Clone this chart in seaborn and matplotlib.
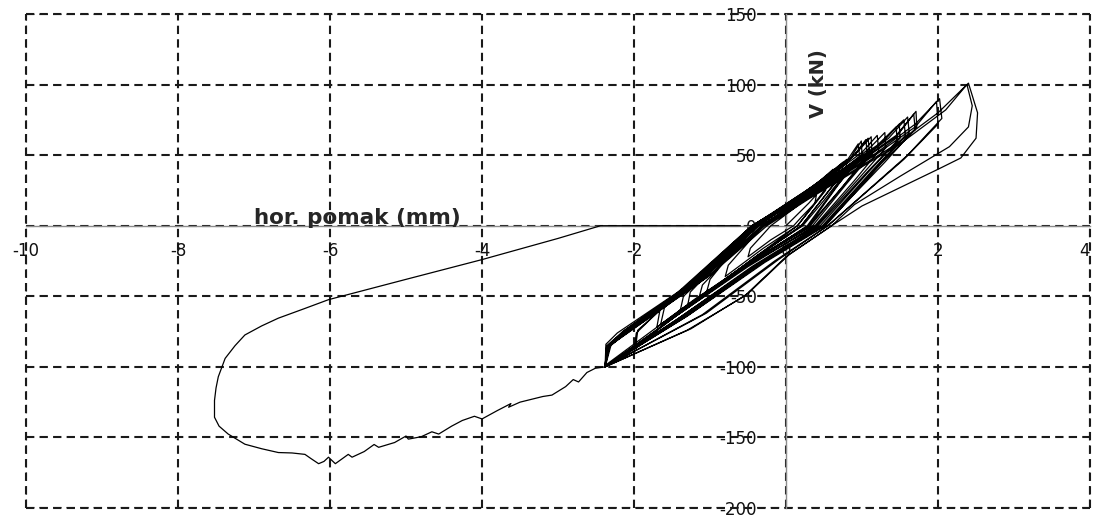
import numpy as np
import pandas as pd
import seaborn as sns
import matplotlib.pyplot as plt

# hysteresis: horizontal displacement (mm) vs shear force V (kN)
# small cycles
small_x = [0, 0.15, 0.3, 0.4, 0.38, 0.2, 0.1, -0.2, -0.4, -0.5, -0.47, -0.3, -0.2,
           0.1, 0.4, 0.55, 0.52, 0.3, 0.15, -0.3, -0.65, -0.8, -0.76, -0.5, -0.3,
           0.05, 0.45, 0.7, 0.68, 0.42, 0.2, -0.35, -0.85, -1.05, -1.0, -0.7, -0.38,
           0.0, 0.45, 0.62, 0.6, 0.35, 0.15, -0.4, -0.9, -1.15, -1.1, -0.75, -0.4,
           0.05, 0.55, 0.8, 0.79, 0.5, 0.22, -0.4, -1.0, -1.3, -1.26, -0.85, -0.42,
           0.05, 0.5, 0.75, 0.73, 0.45, 0.2, -0.45, -1.05, -1.4, -1.35, -0.9, -0.44]
small_y = [0, 8, 16, 22, 16, 6, 0, -10, -18, -22, -16, -6, 0,
           12, 25, 33, 25, 10, 0, -16, -30, -36, -28, -12, 0,
           14, 30, 42, 33, 15, 0, -20, -40, -48, -38, -18, 0,
           14, 32, 40, 32, 14, 0, -22, -42, -52, -42, -22, 0,
           16, 36, 47, 38, 18, 0, -22, -46, -58, -47, -24, 0,
           15, 34, 45, 36, 17, 0, -25, -48, -62, -50, -27, 0]

# medium cycles
mid_x = [0.1, 0.6, 0.85, 0.99, 1.0, 0.7, 0.3, -0.5, -1.2, -1.7, -1.66, -1.1, -0.45,
         0.05, 0.55, 0.8, 0.95, 0.97, 0.65, 0.28, -0.45, -1.15, -1.65, -1.6, -1.05, -0.42,
         0.1, 0.6, 0.9, 1.12, 1.13, 0.8, 0.35, -0.5, -1.4, -2.0, -1.97, -1.4, -0.45,
         0.08, 0.6, 0.88, 1.08, 1.1, 0.78, 0.32, -0.55, -1.4, -1.98, -1.95, -1.35, -0.44]
mid_y = [18, 36, 48, 60, 50, 30, 0, -27, -52, -72, -60, -33, 0,
         16, 35, 46, 58, 48, 27, 0, -26, -52, -70, -58, -32, 0,
         19, 37, 50, 63, 51, 30, 0, -27, -60, -88, -76, -46, 0,
         17, 36, 49, 62, 50, 30, 0, -29, -62, -86, -74, -45, 0]

# cycles reaching -100 kN on the negative side
big_x = [0.1, 0.65, 0.9, 1.05, 1.07, 0.75, 0.3, -0.6, -1.5, -2.38, -2.37, -2.22, -1.34, -0.45,
         0.1, 0.7, 1.0, 1.2, 1.22, 0.9, 0.38, -0.5, -1.5, -2.38, -2.36, -2.12, -1.28, -0.4,
         0.1, 0.8, 1.1, 1.3, 1.31, 0.95, 0.4, -0.5, -1.5, -2.38, -2.36, -2.15, -1.3, -0.42,
         0.1, 0.9, 1.25, 1.49, 1.5, 1.1, 0.45, -0.4, -1.4, -2.38, -2.36, -2.1, -1.25, -0.4,
         0.15, 0.9, 1.2, 1.45, 1.46, 1.05, 0.42, -0.45, -1.45, -2.38, -2.35, -2.05, -1.2, -0.38,
         0.12, 0.85, 1.2, 1.55, 1.57, 1.15, 0.48, -0.38, -1.4, -2.38, -2.35, -2.08, -1.22, -0.38,
         0.15, 1.0, 1.35, 1.6, 1.62, 1.2, 0.5, -0.35, -1.35, -2.38, -2.35, -2.0, -1.2, -0.35,
         0.18, 1.1, 1.45, 1.68, 1.7, 1.25, 0.52, -0.28, -1.3, -2.38, -2.34, -1.98, -1.12, -0.3,
         0.15, 1.05, 1.45, 1.71, 1.72, 1.3, 0.5, -0.3, -1.3, -2.38, -2.34, -2.0, -1.15, -0.32]
big_y = [19, 38, 50, 61, 50, 28, 0, -30, -64, -99, -84, -76, -44, 0,
         18, 40, 52, 64, 53, 32, 0, -29, -66, -100, -85, -74, -42, 0,
         18, 42, 55, 66, 55, 33, 0, -28, -66, -100, -86, -75, -43, 0,
         17, 45, 58, 72, 62, 39, 0, -28, -65, -100, -86, -74, -42, 0,
         18, 45, 56, 70, 60, 37, 0, -29, -67, -100, -87, -73, -41, 0,
         17, 44, 57, 75, 64, 40, 0, -28, -66, -100, -86, -73, -41, 0,
         18, 48, 62, 77, 66, 42, 0, -27, -65, -100, -86, -72, -40, 0,
         17, 50, 63, 79, 68, 44, 0, -26, -64, -100, -86, -71, -38, 0,
         17, 49, 64, 81, 70, 45, 0, -26, -64, -100, -86, -71, -39, 0]

# largest cycles
top_x = [0.2, 1.2, 1.7, 2.02, 2.05, 1.6, 0.55, -0.15, -1.1, -2.38, -2.33, -1.95, -1.1, -0.3,
         0.2, 1.2, 1.7, 1.98, 2.0, 1.55, 0.55, -0.1, -1.05, -2.38, -2.32, -1.9, -1.05, -0.28,
         0.25, 1.4, 2.0, 2.4, 2.52, 2.5, 2.3, 2.0, 1.5, 1.0, 0.6, 0.0, -0.55, -1.3, -2.38,
         -2.3, -1.85, -1.0, -0.25,
         0.3, 1.5, 2.1, 2.38, 2.45, 2.4, 2.15, 1.5, 0.9, 0.6, 0.05, -0.5, -1.25, -2.38]
top_y = [18, 52, 72, 90, 76, 50, 0, -25, -63, -100, -85, -70, -38, 0,
         17, 51, 70, 88, 72, 47, 0, -24, -62, -100, -85, -69, -37, 0,
         18, 56, 80, 101, 80, 62, 48, 40, 27, 14, 0, -22, -50, -74, -100,
         -84, -67, -35, 0,
         19, 58, 82, 100, 85, 70, 56, 35, 15, 0, -20, -48, -73, -100]

# final push to failure and return
tail_x = [-2.51, -2.62, -2.73, -2.8, -2.9, -3.08, -3.2, -3.35, -3.5, -3.65, -3.62, -3.8,
          -4.0, -4.1, -4.26, -4.4, -4.57, -4.66, -4.8, -4.97, -5.0, -5.15, -5.36, -5.42,
          -5.55, -5.71, -5.76, -5.93, -6.02, -6.08, -6.15, -6.25, -6.33, -6.5, -6.68,
          -6.9, -7.12, -7.34, -7.46, -7.52, -7.52, -7.5, -7.47, -7.38, -7.25, -7.12,
          -6.9, -6.68, -6.35, -6.02, -5.0, -4.0, -3.0, -2.44, -1.5, -0.6]
tail_y = [-101, -104, -110.7, -109, -114, -120, -121, -123, -125, -128.6, -126, -131,
          -136.9, -135, -138, -142, -147.6, -146, -149.5, -151.2, -149, -153.6, -157, -155,
          -160, -164, -162, -168.6, -164, -167, -168.6, -165, -162, -161, -160.7,
          -158, -154.8, -147.6, -142, -135.7, -123.8, -115, -107, -94, -85, -77.4,
          -71, -65.5, -59, -52.4, -38, -24, -9, 0, 0, 0]

x_ticks = [-10, -8, -6, -4, -2, 0, 2, 4]
y_ticks = [-200, -150, -100, -50, 0, 50, 100, 150]

df = pd.DataFrame({
    'd': small_x + mid_x + big_x + top_x + tail_x,
    'V': small_y + mid_y + big_y + top_y + tail_y,
})

sns.set_style('white')
plt.rcParams['font.family'] = ['DejaVu Sans']
plt.rcParams['axes.unicode_minus'] = False

fig = plt.figure(figsize=(10.93, 5.22), dpi=100)
ax = fig.add_axes([0.0238, 0.0268, 0.9735, 0.9464])

sns.lineplot(data=df, x='d', y='V', sort=False, estimator=None,
             color='black', lw=0.9, ax=ax, zorder=3)

ax.set_xlim(-10, 4)
ax.set_ylim(-200, 150)
ax.set_xticks(x_ticks)
ax.set_yticks(y_ticks)
ax.set_xlabel('')
ax.set_ylabel('')

grid_kw = dict(color='#1a1a1a', ls=(0, (4, 2.5)), lw=1.5)
ax.grid(True, **grid_kw)
ax.set_axisbelow(True)
# outer dashed frame (grid lines on the limits, not clipped)
ax.axvline(-10, clip_on=False, zorder=1, **grid_kw)
ax.axvline(4, clip_on=False, zorder=1, **grid_kw)
ax.axhline(-200, clip_on=False, zorder=1, **grid_kw)
ax.axhline(150, clip_on=False, zorder=1, **grid_kw)

ax.spines['left'].set_position(('data', 0))
ax.spines['bottom'].set_position(('data', 0))
for s in ['top', 'right']:
    ax.spines[s].set_visible(False)
for s in ['left', 'bottom']:
    ax.spines[s].set_color('#8c8c8c')
    ax.spines[s].set_linewidth(1)

ax.tick_params(axis='x', direction='out', length=7, width=1, color='#8c8c8c',
               pad=5, labelsize=12, labelcolor='#111111')
ax.tick_params(axis='y', direction='out', length=7, width=1, color='#8c8c8c',
               pad=14, labelsize=12, labelcolor='#111111')
# the last x label sits at the right edge; keep it inside the picture
ax.get_xticklabels()[-1].set_horizontalalignment('right')

ax.text(-5.64, 1, 'hor. pomak (mm)', weight='bold', fontsize=15.5,
        ha='center', va='baseline')
ax.text(0.43, 101, 'V (kN)', rotation=90, weight='bold', fontsize=14,
        ha='center', va='center')

fig.savefig('out.png', dpi=100)
